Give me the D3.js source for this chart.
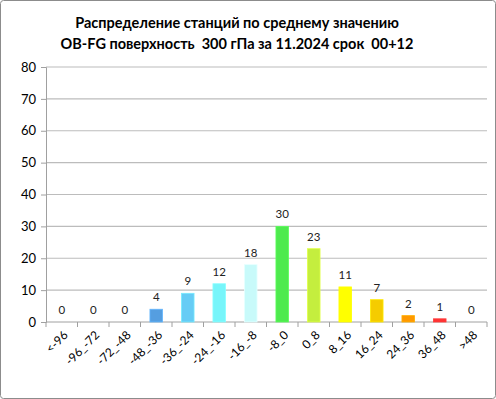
<!DOCTYPE html>
<html>
<head>
<meta charset="utf-8">
<script src="https://cdn.jsdelivr.net/npm/d3@7"></script>
<style>
  body { margin: 0; background: #fff; }
  svg { font-family: Lato, "Open Sans", sans-serif; }
</style>
</head>
<body>
<script>
// categories and counts
var categories = ["<-96", "-96_-72", "-72_-48", "-48_-36", "-36_-24", "-24_-16", "-16_-8",
                  "-8_0", "0_8", "8_16", "16_24", "24_36", "36_48", ">48"];
var counts = [0, 0, 0, 4, 9, 12, 18, 30, 23, 11, 7, 2, 1, 0];
var barColors = ["#559ee0", "#559ee0", "#559ee0", "#559ee0", "#66ccf5", "#77f5fa", "#c8fafa",
                 "#4eea4e", "#c4ee3e", "#ffff00", "#f5cc00", "#ff9900", "#ff3333", "#ff3333"];
var yTicks = [0, 10, 20, 30, 40, 50, 60, 70, 80];
var titleLines = ["Распределение станций по среднему значению",
                  "OB-FG поверхность  300 гПа за 11.2024 срок  00+12"];

var W = 496, H = 399;
var margin = {top: 67, right: 9, bottom: 77, left: 46};
var width = W - margin.left - margin.right,
    height = H - margin.top - margin.bottom;

var svg = d3.select("body").append("svg")
  .attr("width", W)
  .attr("height", H);

// outer frame
svg.append("rect")
  .attr("x", 0.5).attr("y", 0.5)
  .attr("width", W - 1).attr("height", H - 1)
  .attr("rx", 3)
  .attr("fill", "#fff")
  .attr("stroke", "#8c8c8c");

// title
svg.append("g").selectAll("text")
  .data(titleLines)
  .enter().append("text")
  .attr("x", 237)
  .attr("y", function(d, i) { return 28 + i * 21; })
  .attr("text-anchor", "middle")
  .style("font-size", "14.5px")
  .style("font-weight", "bold")
  .style("white-space", "pre")
  .style("fill", "#000")
  .text(function(d) { return d; });

var g = svg.append("g")
  .attr("transform", "translate(" + margin.left + "," + margin.top + ")");

var x = d3.scaleBand()
  .domain(categories)
  .range([0, width])
  .paddingInner(0.6)
  .paddingOuter(0.3);

var y = d3.scaleLinear()
  .domain([0, 80])
  .range([height, 0]);

// gridlines
g.append("g").selectAll("line")
  .data(yTicks.slice(1))
  .enter().append("line")
  .attr("x1", 0).attr("x2", width)
  .attr("y1", function(d) { return y(d); })
  .attr("y2", function(d) { return y(d); })
  .attr("stroke", "#bcbcbc")
  .attr("stroke-width", 1.2);

// y axis
var yAxis = g.append("g")
  .call(d3.axisLeft(y).tickValues(yTicks).tickSize(5).tickPadding(5));
yAxis.select(".domain").attr("stroke", "#a0a0a0");
yAxis.selectAll(".tick line").attr("stroke", "#a0a0a0");
yAxis.selectAll("text")
  .style("font-size", "13px")
  .style("font-family", "Lato, sans-serif")
  .attr("fill", "#000");

// x axis: ticks on the category boundaries
var step = x.step();
var xAxis = g.append("g")
  .attr("transform", "translate(0," + height + ")");
xAxis.append("line")
  .attr("x1", 0).attr("x2", width)
  .attr("stroke", "#a0a0a0");
xAxis.selectAll(".bt")
  .data(d3.range(categories.length + 1))
  .enter().append("line")
  .attr("class", "bt")
  .attr("x1", function(i) { return i * step; })
  .attr("x2", function(i) { return i * step; })
  .attr("y1", 0).attr("y2", 5)
  .attr("stroke", "#a0a0a0");
xAxis.selectAll("text")
  .data(categories)
  .enter().append("text")
  .attr("transform", function(d) {
    return "translate(" + (x(d) + x.bandwidth() / 2 + 1) + ",8) rotate(-45)";
  })
  .attr("text-anchor", "end")
  .attr("dy", "0.7em")
  .style("font-size", "12px")
  .style("fill", "#000")
  .text(function(d) { return d; });

// bars
g.append("g").selectAll("rect")
  .data(counts)
  .enter().append("rect")
  .attr("x", function(d, i) { return x(categories[i]); })
  .attr("y", function(d) { return y(d); })
  .attr("width", x.bandwidth())
  .attr("height", function(d) { return height - y(d); })
  .attr("fill", function(d, i) { return barColors[i]; })
  .attr("stroke", function(d, i) { return d3.color(barColors[i]).brighter(0.4); })
  .attr("stroke-width", 0.8);

// value labels
g.append("g").selectAll("text")
  .data(counts)
  .enter().append("text")
  .attr("x", function(d, i) { return x(categories[i]) + x.bandwidth() / 2; })
  .attr("y", function(d) { return y(d) - 8; })
  .attr("text-anchor", "middle")
  .style("font-size", "11.5px")
  .style("fill", "#222")
  .text(function(d) { return d; });
</script>
</body>
</html>
